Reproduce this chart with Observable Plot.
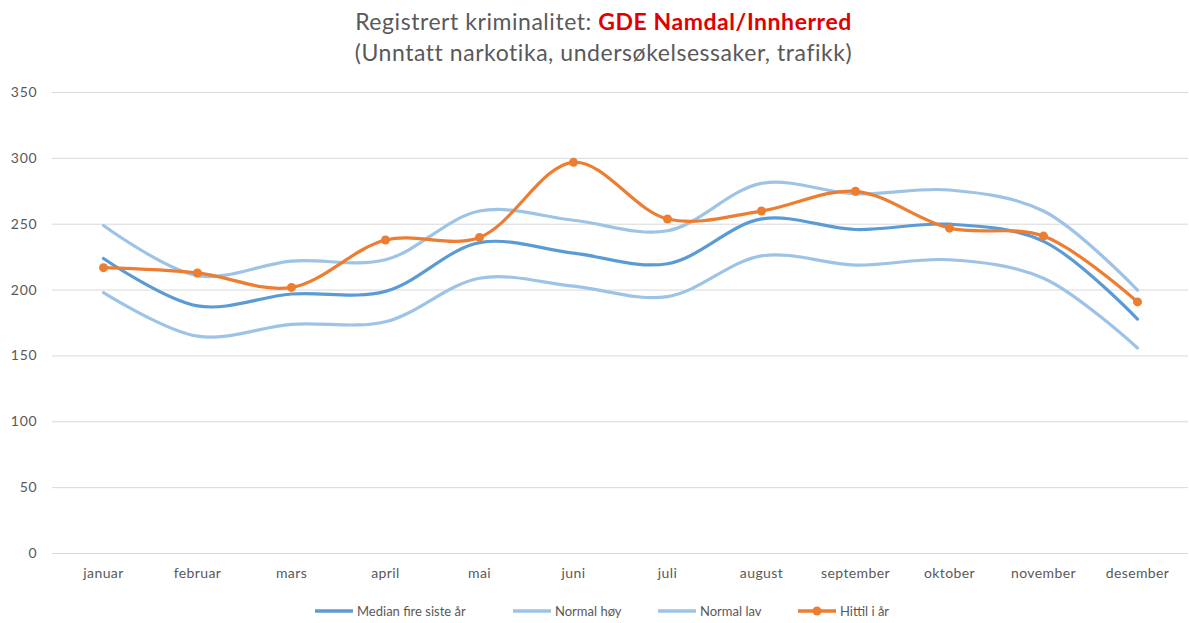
<!DOCTYPE html>
<html>
<head>
<meta charset="utf-8">
<script src="https://cdn.jsdelivr.net/npm/d3@7"></script>
<script src="https://cdn.jsdelivr.net/npm/@observablehq/plot@0.6"></script>
<style>
  html, body { margin: 0; padding: 0; background: #fff; }
  #page { position: relative; width: 1189px; height: 623px; font-family: Lato, "Open Sans", sans-serif; color: #595959; }
  #title { position: absolute; top: 6px; left: 0; width: 1189px; padding-left: 18px; box-sizing: border-box; text-align: center; font-size: 23px; letter-spacing: 0.55px; line-height: 31px; color: #595959; }
  #title .red { color: #e00000; font-weight: bold; }
  #chart { position: absolute; top: 80px; left: 0; }
  .leg { position: absolute; top: 602px; display: flex; align-items: center; font-size: 13px; color: #595959; white-space: nowrap; }
  .leg svg { margin-right: 4px; }
  .yax text { letter-spacing: 0.8px; }
  .xax text { letter-spacing: 0.4px; }
</style>
</head>
<body>
<div id="page">
  <div id="title">Registrert kriminalitet: <span class="red">GDE Namdal/Innherred</span><br>(Unntatt narkotika, undersøkelsessaker, trafikk)</div>
  <div id="chart"></div>
</div>
<script>
const months = ["januar","februar","mars","april","mai","juni","juli","august","september","oktober","november","desember"];
const median    = [224, 188, 197, 199, 236, 228, 220, 254, 246, 250, 237, 178];
const normalHoy = [249, 211, 222, 223, 260, 253, 245, 281, 273, 276, 260, 200];
const normalLav = [198, 165, 174, 176, 209, 203, 195, 226, 219, 223, 209, 156];
const hittil    = [217, 213, 202, 238, 240, 297, 254, 260, 275, 247, 241, 191];
const yTicks = [0, 50, 100, 150, 200, 250, 300, 350];

const seriesNames = ["Median fire siste år", "Normal høy", "Normal lav", "Hittil i år"];
const seriesColors = ["#5b9bd5", "#9dc3e6", "#9dc3e6", "#ed7d31"];
const seriesValues = [median, normalHoy, normalLav, hittil];

const rows = (vals, name) => months.map((m, i) => ({month: m, value: vals[i], series: name}));
const drawOrder = [2, 1, 0, 3];

const chart = Plot.plot({
  width: 1189,
  height: 510,
  marginLeft: 52,
  marginRight: 1,
  marginTop: 12,
  marginBottom: 37,
  style: {fontFamily: "Lato, 'Open Sans', sans-serif", fontSize: "14px", color: "#595959", background: "#fff"},
  x: {type: "point", domain: months, padding: 0.5, label: null},
  y: {domain: [0, 350], label: null},
  marks: [
    Plot.gridY(yTicks, {stroke: "#d9d9d9", strokeOpacity: 1, strokeWidth: 1}),
    Plot.axisY(yTicks, {tickSize: 0, tickPadding: 15, label: null, fill: "#595959", className: "yax"}),
    Plot.axisX({tickSize: 0, tickPadding: 15, label: null, fill: "#595959", className: "xax"}),
    ...drawOrder.map(k => Plot.line(rows(seriesValues[k], seriesNames[k]), {
      x: "month", y: "value", stroke: seriesColors[k], strokeWidth: 3.2, curve: "catmull-rom"
    })),
    Plot.dot(rows(hittil, seriesNames[3]), {x: "month", y: "value", fill: "#ed7d31", r: 4.5})
  ]
});
document.getElementById("chart").appendChild(chart);

// legend
const legLeft = [315, 513, 658, 798];
const page = document.getElementById("page");
seriesNames.forEach((name, k) => {
  const d = document.createElement("div");
  d.className = "leg";
  d.style.left = legLeft[k] + "px";
  const dot = k === 3 ? `<circle cx="19" cy="9" r="4.5" fill="${seriesColors[k]}"/>` : "";
  d.innerHTML = `<svg width="38" height="18"><line x1="0" y1="9" x2="38" y2="9" stroke="${seriesColors[k]}" stroke-width="3.5"/>${dot}</svg><span>${name}</span>`;
  page.appendChild(d);
});
</script>
</body>
</html>
